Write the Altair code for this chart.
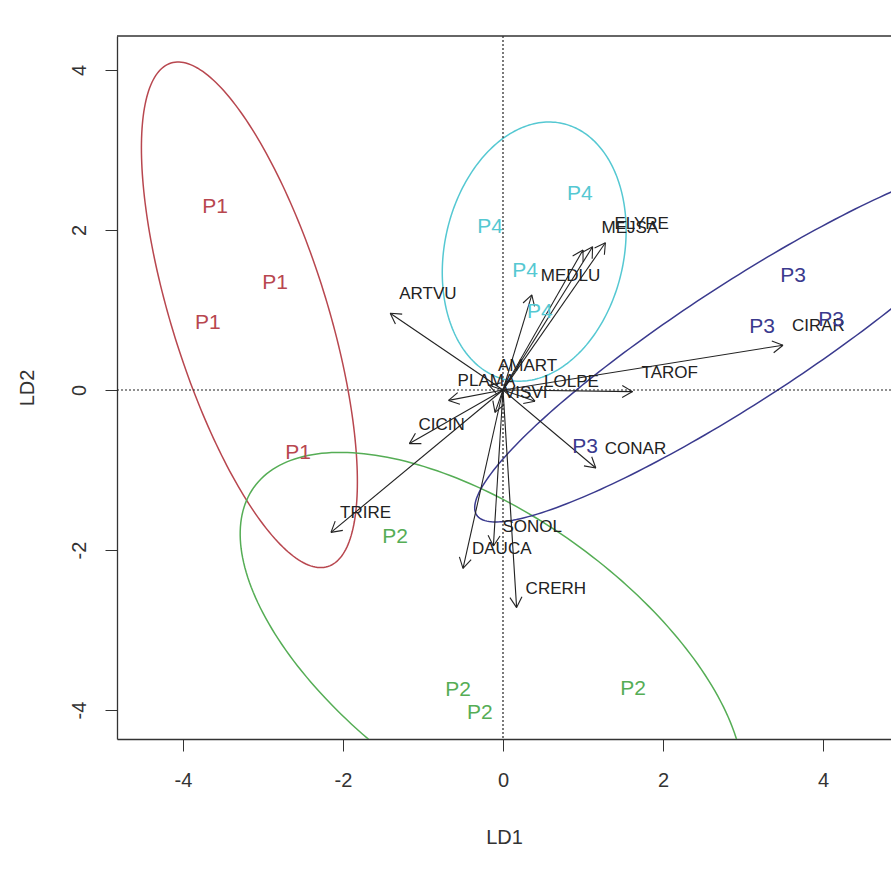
import altair as alt
import numpy as np
import pandas as pd

# ---- data ----
# variable arrows (tips in LD1/LD2 units)
var_names = ["ARTVU", "MEDLU", "MEJSA", "ELYRE", "", "AMART", "PLAMA", "LOLPE",
             "TAROF", "CIRAR", "VISVI", "CICIN", "TRIRE", "CONAR", "SONOL",
             "DAUCA", "CRERH"]
var_ld1 = [-1.41, 0.36, 1.12, 1.28, 1.0, -0.175, -0.68, 0.4,
           1.62, 3.5, -0.1, -1.17, -2.15, 1.16, -0.12, -0.5, 0.17]
var_ld2 = [0.96, 1.19, 1.79, 1.84, 1.75, 0.06, -0.13, -0.14,
           -0.02, 0.56, -0.28, -0.67, -1.78, -0.975, -1.95, -2.23, -2.72]

# group scores
grp_names = ["P1"] * 4 + ["P2"] * 4 + ["P3"] * 4 + ["P4"] * 4
grp_ld1 = [-3.6, -2.85, -3.69, -2.56, -1.35, -0.56, -0.29, 1.625,
           3.625, 3.24, 1.025, 4.1, 0.96, -0.16, 0.275, 0.46]
grp_ld2 = [2.29, 1.34, 0.84, -0.79, -1.84, -3.75, -4.04, -3.74,
           1.425, 0.79, -0.71, 0.875, 2.45, 2.04, 1.49, 0.975]

# ellipses per group: centre, semi-axes, rotation (degrees)
ell_group = ["P1", "P2", "P3", "P4"]
ell_cx = [-3.17, -0.14, 3.0, 0.39]
ell_cy = [0.94, -3.34, 0.6, 1.73]
ell_a = [3.296, 3.654, 3.97, 1.64]
ell_b = [0.972, 1.759, 0.74, 1.12]
ell_rot = [107.3, 144.5, 33.0, 77.6]

grp_colors = ["#b8474f", "#55ad55", "#3a3a8e", "#55c8d2"]

x_ticks = [-4, -2, 0, 2, 4]
y_ticks = [-4, -2, 0, 2, 4]
x_dom = [-4.825, 4.85]
y_dom = [-4.3625, 4.425]

W, H = 774, 703

# ---- build tables ----
t = np.linspace(0, 2 * np.pi, 241)
rows = []
for g, cx, cy, a, b, r in zip(ell_group, ell_cx, ell_cy, ell_a, ell_b, ell_rot):
    th = np.deg2rad(r)
    xs = cx + a * np.cos(t) * np.cos(th) - b * np.sin(t) * np.sin(th)
    ys = cy + a * np.cos(t) * np.sin(th) + b * np.sin(t) * np.cos(th)
    for i, (xx, yy) in enumerate(zip(xs, ys)):
        rows.append({"g": g, "i": i, "x": xx, "y": yy})
ell_df = pd.DataFrame(rows)

arr_df = pd.DataFrame({"name": var_names, "x": var_ld1, "y": var_ld2,
                       "x0": 0.0, "y0": 0.0})

# arrow heads (two short strokes at +-30 degrees from each tip)
head_len = 0.15
hrows = []
for xx, yy in zip(var_ld1, var_ld2):
    ang = np.arctan2(yy, xx)
    for s in (-1, 1):
        a2 = ang + np.pi + s * np.deg2rad(30)
        hrows.append({"x": xx, "y": yy,
                      "x2": xx + head_len * np.cos(a2),
                      "y2": yy + head_len * np.sin(a2)})
head_df = pd.DataFrame(hrows)

lab_df = arr_df[arr_df["name"] != ""]
grp_df = pd.DataFrame({"g": grp_names, "x": grp_ld1, "y": grp_ld2})

xs = alt.Scale(domain=x_dom, nice=False, zero=False)
ys = alt.Scale(domain=y_dom, nice=False, zero=False)
col = alt.Scale(domain=ell_group, range=grp_colors)

x_axis = alt.Axis(values=x_ticks, labelExpr="datum.value + ''", grid=False,
                  tickSize=12, tickColor="#333", domainColor="#333", domainWidth=1.3,
                  labelFontSize=20, labelColor="#333", labelPadding=19,
                  labelFont="Liberation Sans",
                  title="LD1", titleFontSize=20, titleFontWeight="normal",
                  titleColor="#333", titleFont="Liberation Sans",
                  titleY=98, titleBaseline="middle")
y_axis = alt.Axis(values=y_ticks, labelExpr="datum.value + ''", grid=False,
                  tickSize=12, tickColor="#333", domainColor="#333", domainWidth=1.3,
                  labelFontSize=20, labelColor="#333", labelPadding=26,
                  labelAngle=-90, labelAlign="center", labelBaseline="middle",
                  labelFont="Liberation Sans",
                  title="LD2", titleFontSize=20, titleFontWeight="normal",
                  titleColor="#333", titleFont="Liberation Sans",
                  titleX=-90, titleBaseline="middle")

base_x = alt.X("x:Q", scale=xs, axis=x_axis)
base_y = alt.Y("y:Q", scale=ys, axis=y_axis)

ellipses = alt.Chart(ell_df).mark_line(strokeWidth=1.5, clip=True).encode(
    x=base_x, y=base_y,
    color=alt.Color("g:N", scale=col, legend=None),
    detail="g:N", order="i:Q")

zero_df = pd.DataFrame({"x": [0.0], "y": [0.0]})
vline = alt.Chart(zero_df).mark_rule(color="#222", strokeDash=[2, 2], strokeWidth=1.2).encode(
    x=alt.X("x:Q", scale=xs))
hline = alt.Chart(zero_df).mark_rule(color="#222", strokeDash=[2, 2], strokeWidth=1.2).encode(
    y=alt.Y("y:Q", scale=ys))

top_line = alt.Chart(zero_df).mark_rule(color="#333", strokeWidth=1.3).encode(
    x=alt.value(0), x2=alt.value(W), y=alt.value(0))

arrows = alt.Chart(arr_df).mark_rule(color="#222", strokeWidth=1.1).encode(
    x=alt.X("x0:Q", scale=xs), y=alt.Y("y0:Q", scale=ys),
    x2="x:Q", y2="y:Q")
heads = alt.Chart(head_df).mark_rule(color="#222", strokeWidth=1.1).encode(
    x=alt.X("x:Q", scale=xs), y=alt.Y("y:Q", scale=ys),
    x2="x2:Q", y2="y2:Q")

var_text = alt.Chart(lab_df).mark_text(
    align="left", baseline="middle", dx=9, dy=-19, fontSize=17,
    font="Liberation Sans", color="#222").encode(
    x=alt.X("x:Q", scale=xs), y=alt.Y("y:Q", scale=ys), text="name:N")

grp_text = alt.Chart(grp_df).mark_text(
    align="center", baseline="middle", fontSize=21, font="Liberation Sans").encode(
    x=alt.X("x:Q", scale=xs), y=alt.Y("y:Q", scale=ys), text="g:N",
    color=alt.Color("g:N", scale=col, legend=None))

chart = alt.layer(ellipses, vline, hline, arrows, heads, var_text, grp_text, top_line).properties(
    width=W, height=H,
    autosize=alt.AutoSizeParams(type="none"),
    padding={"left": 117, "top": 36, "right": 0, "bottom": 131},
    background="white",
).configure_view(stroke=None)

chart.save("out.html", embed_options={"renderer": "svg", "actions": False})
